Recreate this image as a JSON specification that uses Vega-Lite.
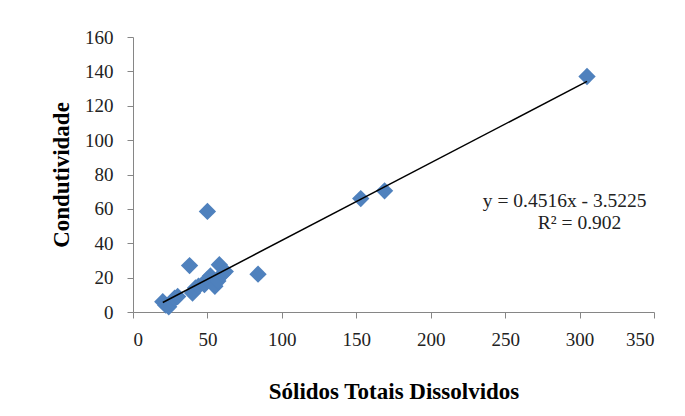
{
  "$schema": "https://vega.github.io/schema/vega-lite/v6.json",
  "width": 521,
  "height": 275,
  "autosize": {"type": "none"},
  "padding": {"left": 133, "top": 37, "right": 31, "bottom": 104},
  "background": "white",
  "config": {
    "view": {"stroke": null},
    "font": "Liberation Serif",
    "axis": {
      "grid": false,
      "domainColor": "#868686",
      "tickColor": "#868686",
      "tickSize": 6,
      "labelFont": "Liberation Serif",
      "labelFontSize": 19,
      "labelColor": "#222222",
      "labelOverlap": false,
      "titleFont": "Liberation Serif",
      "titleFontSize": 23,
      "titleFontWeight": "bold",
      "titleColor": "#000000"
    }
  },
  "datasets": {
    "pts": [
      {"std": 20, "cond": 6},
      {"std": 22, "cond": 4},
      {"std": 24, "cond": 3},
      {"std": 26, "cond": 6},
      {"std": 28, "cond": 8},
      {"std": 30, "cond": 9},
      {"std": 38, "cond": 27},
      {"std": 40, "cond": 11},
      {"std": 42, "cond": 14},
      {"std": 44, "cond": 15},
      {"std": 48, "cond": 16},
      {"std": 50, "cond": 19},
      {"std": 50, "cond": 58.5},
      {"std": 52, "cond": 21},
      {"std": 55, "cond": 15},
      {"std": 57, "cond": 18},
      {"std": 58, "cond": 27.5},
      {"std": 60, "cond": 22},
      {"std": 62, "cond": 23.5},
      {"std": 84, "cond": 22},
      {"std": 153, "cond": 66},
      {"std": 169, "cond": 70.5},
      {"std": 305, "cond": 137}
    ],
    "trend": [
      {"std": 20, "cond": 5.51},
      {"std": 305, "cond": 134.2}
    ],
    "eq": [
      {"std": 290, "cond": 64.5, "label": "y = 0.4516x - 3.5225"},
      {"std": 300, "cond": 51.5, "label": "R² = 0.902"}
    ]
  },
  "encoding": {
    "x": {"field": "std", "type": "quantitative", "scale": {"domain": [0, 350], "nice": false},
      "axis": {"values": [0, 50, 100, 150, 200, 250, 300, 350], "labelOverlap": false, "title": "Sólidos Totais Dissolvidos", "titlePadding": 31, "labelPadding": 12}},
    "y": {"field": "cond", "type": "quantitative", "scale": {"domain": [0, 160], "nice": false},
      "axis": {"values": [0, 20, 40, 60, 80, 100, 120, 140, 160], "labelOverlap": false, "title": "Condutividade", "titlePadding": 11, "labelPadding": 14}}
  },
  "layer": [
    {
      "data": {"name": "pts"},
      "mark": {"type": "point", "shape": "diamond", "filled": true, "size": 300, "color": "#4F81BD", "opacity": 1}
    },
    {
      "data": {"name": "trend"},
      "mark": {"type": "line", "color": "#000000", "strokeWidth": 1.5}
    },
    {
      "data": {"name": "eq"},
      "mark": {"type": "text", "font": "Liberation Serif", "fontSize": 19.5, "color": "#222222", "align": "center", "baseline": "middle"},
      "encoding": {
        "text": {"field": "label"}
      }
    }
  ]
}
